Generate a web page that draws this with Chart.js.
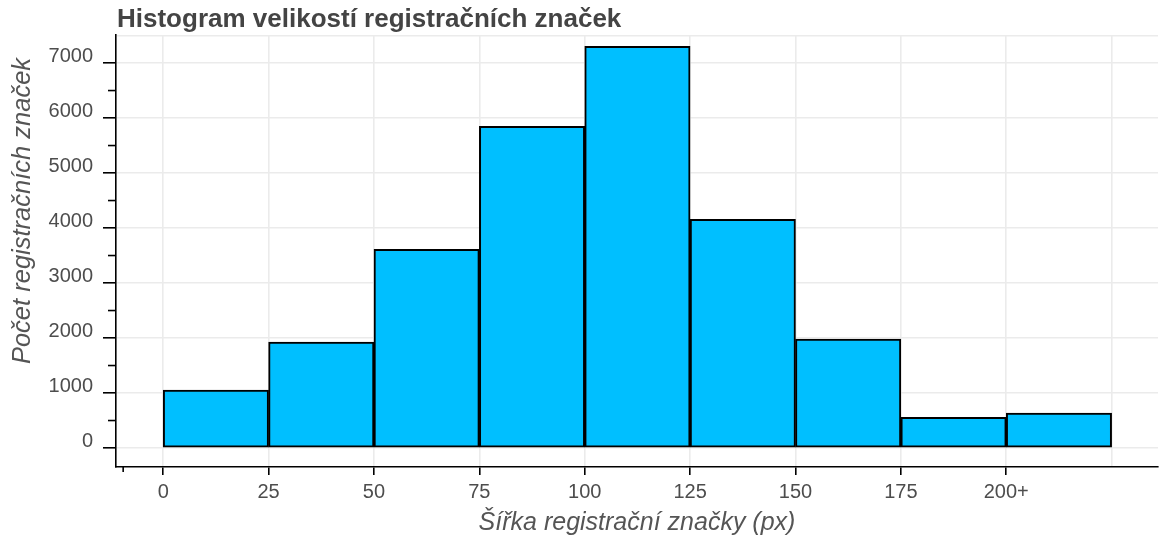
<!DOCTYPE html>
<html>
<head>
<meta charset="utf-8">
<script src="https://cdn.jsdelivr.net/npm/chart.js@4/dist/chart.umd.min.js"></script>
<style>
  html, body { margin: 0; padding: 0; background: #fff; }
  #wrap { width: 1161px; height: 543px; }
</style>
</head>
<body>
<div id="wrap"><canvas id="plate-hist"></canvas></div>
<script>
var binStarts = [0, 25, 50, 75, 100, 125, 150, 175, 200];
var binWidth = 25;
var counts = [1055, 1925, 3615, 5850, 7305, 4160, 1980, 560, 635];
var xTicks = [0, 25, 50, 75, 100, 125, 150, 175, 200, 225];
var xTickLabels = ['0', '25', '50', '75', '100', '125', '150', '175', '200+', ''];
var yTicks = [0, 1000, 2000, 3000, 4000, 5000, 6000, 7000, 7500];
var yMinorTicks = [500, 1500, 2500, 3500, 4500, 5500, 6500];

var titleText = 'Histogram velikostí registračních značek';
var xTitle = 'Šířka registrační značky (px)';
var yTitle = 'Počet registračních značek';

var PlateHist = (function () {
    var elem = 'plate-hist';
    var gridColor = '#ebebeb';
    var textColor = '#4d4d4d';
    var fontFamily = '"Liberation Sans", Arial, sans-serif';

    var extras = {
        id: 'extras',
        afterDraw: function (chart) {
            var ctx = chart.ctx;
            var area = chart.chartArea;
            var y = chart.scales.y;
            var x = chart.scales.x;
            ctx.save();
            // minor ticks on the y axis
            ctx.strokeStyle = '#000';
            ctx.lineWidth = 1.6;
            yMinorTicks.forEach(function (v) {
                var py = y.getPixelForValue(v);
                ctx.beginPath();
                ctx.moveTo(area.left - 8, py);
                ctx.lineTo(area.left, py);
                ctx.stroke();
            });
            // small tick left of zero
            var px = x.getPixelForValue(-9.5);
            ctx.beginPath();
            ctx.moveTo(px, area.bottom);
            ctx.lineTo(px, area.bottom + 5);
            ctx.stroke();

            // chart title
            ctx.fillStyle = '#444';
            ctx.font = 'bold 26px ' + fontFamily;
            ctx.textAlign = 'left';
            ctx.textBaseline = 'alphabetic';
            ctx.fillText(titleText, area.left + 1, 27);

            // y axis title
            ctx.fillStyle = '#555';
            ctx.font = 'italic 25.5px ' + fontFamily;
            ctx.translate(23, 211);
            ctx.rotate(-Math.PI / 2);
            ctx.textAlign = 'center';
            ctx.textBaseline = 'middle';
            ctx.fillText(yTitle, 0, 0);
            ctx.restore();
        }
    };

    var init = function () {
        var points = binStarts.map(function (s, i) {
            return { x: s + binWidth / 2, y: counts[i] };
        });

        new Chart(elem, {
            type: 'bar',
            data: {
                datasets: [{
                    data: points,
                    backgroundColor: '#00bfff',
                    borderColor: '#000',
                    borderWidth: 2,
                    borderSkipped: false,
                    barPercentage: 1,
                    categoryPercentage: 1
                }]
            },
            options: {
                responsive: true,
                maintainAspectRatio: false,
                animation: false,
                layout: {
                    padding: { top: 35, right: 3, left: 0, bottom: 0 }
                },
                plugins: {
                    legend: { display: false },
                    tooltip: { enabled: false }
                },
                scales: {
                    x: {
                        type: 'linear',
                        offset: false,
                        min: -11.2,
                        max: 236,
                        afterBuildTicks: function (scale) {
                            scale.ticks = xTicks.map(function (v) { return { value: v }; });
                        },
                        afterFit: function (scale) { scale.height = 76; },
                        ticks: {
                            autoSkip: false,
                            maxRotation: 0,
                            padding: 5,
                            color: textColor,
                            font: { family: fontFamily, size: 20 },
                            callback: function (v) {
                                var i = xTicks.indexOf(v);
                                return i < 0 ? '' : xTickLabels[i];
                            }
                        },
                        grid: {
                            offset: false,
                            color: gridColor,
                            lineWidth: 1.6,
                            tickLength: 8,
                            tickWidth: 1.6,
                            tickColor: function (c) {
                                return c.tick && c.tick.value === 225 ? 'rgba(0,0,0,0)' : '#000';
                            }
                        },
                        border: { display: true, color: '#000', width: 1.6 },
                        title: {
                            display: true,
                            text: xTitle,
                            color: '#555',
                            font: { family: fontFamily, size: 25, style: 'italic' },
                            padding: { top: 4, bottom: 5 }
                        }
                    },
                    y: {
                        min: -345,
                        max: 7510,
                        afterBuildTicks: function (scale) {
                            scale.ticks = yTicks.map(function (v) { return { value: v }; });
                        },
                        afterFit: function (scale) { scale.width = 116; },
                        ticks: {
                            autoSkip: false,
                            padding: 10,
                            labelOffset: -7,
                            color: textColor,
                            font: { family: fontFamily, size: 20 },
                            callback: function (v) {
                                return v % 1000 === 0 ? String(v) : '';
                            }
                        },
                        grid: {
                            color: gridColor,
                            lineWidth: 1.6,
                            tickLength: 13,
                            tickWidth: 1.6,
                            tickColor: function (c) {
                                return c.tick && c.tick.value % 1000 !== 0 ? 'rgba(0,0,0,0)' : '#000';
                            }
                        },
                        border: { display: true, color: '#000', width: 1.6 }
                    }
                }
            },
            plugins: [extras]
        });
    };

    init();
    return {};
})();
</script>
</body>
</html>
